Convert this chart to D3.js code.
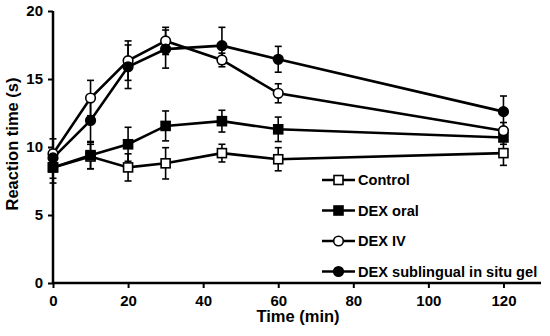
<!DOCTYPE html>
<html><head><meta charset="utf-8">
<script src="https://cdn.jsdelivr.net/npm/d3@7/dist/d3.min.js"></script>
<style>body{margin:0;background:#fff}svg{display:block}text{font-family:"Liberation Sans",Arial,sans-serif;font-weight:bold;fill:#000}</style>
</head><body>
<svg id="c" width="550" height="336"></svg>
<script>
const times = [0, 10, 20, 30, 45, 60, 120];
const seriesNames = ["Control", "DEX oral", "DEX IV", "DEX sublingual in situ gel"];
const controlVals = [8.5, 9.3, 8.5, 8.8, 9.55, 9.1, 9.55];
const controlErr  = [1.15, 0.9, 1.0, 1.15, 0.65, 0.85, 0.9];
const oralVals = [8.5, 9.4, 10.2, 11.55, 11.9, 11.3, 10.7];
const oralErr  = [0.8, 1.0, 1.25, 1.1, 0.8, 0.9, 0.5];
const ivVals = [9.5, 13.6, 16.35, 17.8, 16.4, 13.95, 11.2];
const ivErr  = [1.1, 1.3, 1.45, 1.0, 0.5, 0.7, 0.6];
const gelVals = [9.2, 11.95, 15.9, 17.2, 17.45, 16.45, 12.6];
const gelErr  = [0.6, 1.6, 1.6, 1.4, 1.35, 0.95, 1.15];
const xTicks = [0, 20, 40, 60, 80, 100, 120];
const yTicks = [0, 5, 10, 15, 20];

const series = [
  {name: seriesNames[0], vals: controlVals, err: controlErr, shape: "square", fill: "#fff"},
  {name: seriesNames[1], vals: oralVals, err: oralErr, shape: "square", fill: "#000"},
  {name: seriesNames[2], vals: ivVals, err: ivErr, shape: "circle", fill: "#fff"},
  {name: seriesNames[3], vals: gelVals, err: gelErr, shape: "circle", fill: "#000"}
];

const svg = d3.select("#c");
const x = d3.scaleLinear().domain([0, 130]).range([53, 541]);
const y = d3.scaleLinear().domain([0, 20]).range([283, 11]);

// axes
const gx = svg.append("g").attr("transform", `translate(0,${y(0)})`)
  .call(d3.axisBottom(x).tickValues(xTicks).tickSize(5).tickPadding(7));
const gy = svg.append("g").attr("transform", `translate(${x(0)},0)`)
  .call(d3.axisLeft(y).tickValues(yTicks).tickSize(5).tickPadding(5));
[gx, gy].forEach(g => {
  g.select(".domain").attr("stroke", "#000").attr("stroke-width", 2.5);
  g.selectAll(".tick line").attr("stroke", "#000").attr("stroke-width", 2);
  g.selectAll(".tick text").style("font-size", "15px").style("font-family", '"Liberation Sans",Arial,sans-serif').style("font-weight", "bold").attr("fill", "#000");
});
gx.select(".domain").attr("d", `M${x(0)},0H${x(130)}`);
gy.select(".domain").attr("d", `M0,${y(0)}V${y(20)}`);

svg.append("text").attr("x", 298).attr("y", 322).attr("text-anchor", "middle")
  .style("font-size", "16.5px").text("Time (min)");
svg.append("text").attr("transform", "translate(18,144) rotate(-90)").attr("text-anchor", "middle")
  .style("font-size", "16.5px").text("Reaction time (s)");

const line = d3.line().x((d, i) => x(times[i])).y(d => y(d));

function marker(g, s, cx, cy) {
  if (s.shape === "square") {
    g.append("rect").attr("x", cx - 4.5).attr("y", cy - 4.5).attr("width", 9).attr("height", 9)
      .attr("fill", s.fill).attr("stroke", "#000").attr("stroke-width", 1.6);
  } else {
    g.append("circle").attr("cx", cx).attr("cy", cy).attr("r", 4.8)
      .attr("fill", s.fill).attr("stroke", "#000").attr("stroke-width", 1.6);
  }
}

const plot = svg.append("g");
// error bars
series.forEach(s => {
  const g = plot.append("g");
  s.vals.forEach((v, i) => {
    const cx = x(times[i]);
    const y1 = y(v + s.err[i]), y2 = y(v - s.err[i]);
    g.append("line").attr("x1", cx).attr("x2", cx).attr("y1", y1).attr("y2", y2).attr("stroke", "#000").attr("stroke-width", 1.6);
    [y1, y2].forEach(yy => g.append("line").attr("x1", cx - 3.5).attr("x2", cx + 3.5).attr("y1", yy).attr("y2", yy).attr("stroke", "#000").attr("stroke-width", 1.6));
  });
});
// lines
series.forEach(s => {
  plot.append("path").datum(s.vals).attr("d", line).attr("fill", "none").attr("stroke", "#000").attr("stroke-width", 2.6);
});
// markers
series.forEach(s => {
  const g = plot.append("g");
  s.vals.forEach((v, i) => marker(g, s, x(times[i]), y(v)));
});

// legend
const leg = svg.append("g");
series.forEach((s, i) => {
  const ly = 180 + i * 30.5;
  leg.append("line").attr("x1", 322).attr("x2", 355).attr("y1", ly).attr("y2", ly).attr("stroke", "#000").attr("stroke-width", 2.6);
  marker(leg, s, 338.5, ly);
  leg.append("text").attr("x", 358).attr("y", ly + 5).style("font-size", "14.6px").text(s.name);
});
</script>
</body></html>
